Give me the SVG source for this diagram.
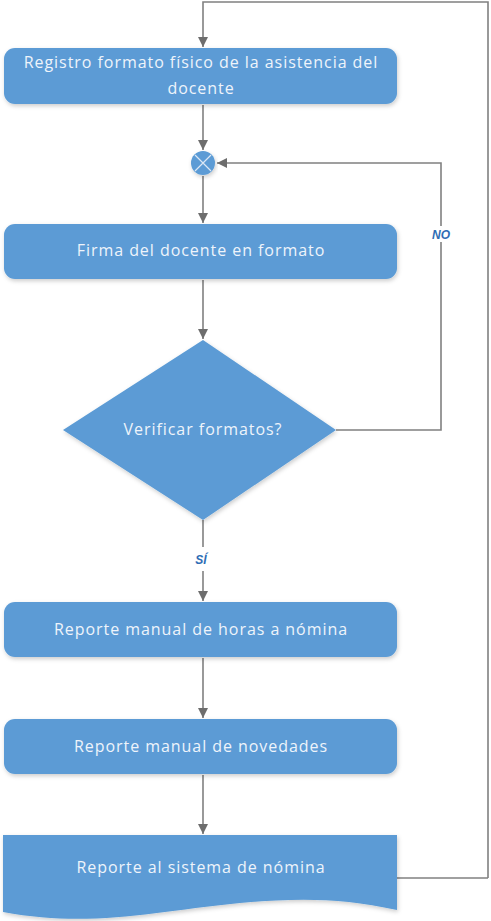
<svg xmlns="http://www.w3.org/2000/svg" width="491" height="921" viewBox="0 0 491 921">
<style>
.node{fill:#5b9bd5;filter:url(#sh)}
.lbl{font-family:"Open Sans","Noto Sans",sans-serif;font-size:16px;letter-spacing:0.95px;fill:#eef4fb;text-anchor:middle}
.conn{fill:none;stroke:#808080;stroke-width:1.6}
.edge{font-family:"Liberation Sans",Arial,sans-serif;font-size:12px;font-style:italic;font-weight:bold;fill:#2f6db5;text-anchor:middle}
</style>
<defs>
<filter id="sh" x="-10%" y="-10%" width="120%" height="130%">
<feDropShadow dx="1" dy="2" stdDeviation="2" flood-color="#000" flood-opacity="0.2"/>
</filter>
<marker id="ar" viewBox="0 0 10 10" refX="10" refY="5" markerWidth="10" markerHeight="10" markerUnits="userSpaceOnUse" orient="auto">
<path d="M0,0 L10,5 L0,10 Z" fill="#6d6d6d"/>
</marker>
</defs>
<rect width="491" height="921" fill="#ffffff"/>
<g id="connectors">
<path class="conn" d="M488,878 V2 H203 V47" marker-end="url(#ar)"/>
<path class="conn" d="M203,105 V150" marker-end="url(#ar)"/>
<path class="conn" d="M203,176 V223" marker-end="url(#ar)"/>
<path class="conn" d="M203,280 V339" marker-end="url(#ar)"/>
<path class="conn" d="M336,430 H441 V163 H217" marker-end="url(#ar)"/>
<path class="conn" d="M203,520 V547"/>
<path class="conn" d="M203,571 V601" marker-end="url(#ar)"/>
<path class="conn" d="M203,658 V718" marker-end="url(#ar)"/>
<path class="conn" d="M203,775 V834" marker-end="url(#ar)"/>
<path class="conn" d="M397,878 H488"/>
<rect x="430" y="226" width="24" height="16" fill="#ffffff"/>
<text class="edge" x="441" y="239">NO</text>
<text class="edge" x="201" y="564">SÍ</text>
</g>
<g id="n1">
<rect class="node" x="4" y="48" width="393" height="56" rx="11"/>
<text class="lbl" x="201" y="68">Registro formato físico de la asistencia del</text>
<text class="lbl" x="201" y="94">docente</text>
</g>
<g id="merge">
<circle class="node" cx="203" cy="163" r="12"/>
<path d="M195,155 L211,171 M211,155 L195,171" stroke="#dbe7f5" stroke-width="1.2"/>
</g>
<g id="n2">
<rect class="node" x="4" y="224" width="393" height="55" rx="11"/>
<text class="lbl" x="201" y="256">Firma del docente en formato</text>
</g>
<g id="d1">
<path class="node" d="M203,340 L336,430 L203,520 L63,430 Z"/>
<text class="lbl" x="203" y="435">Verificar formatos?</text>
</g>
<g id="n3">
<rect class="node" x="4" y="602" width="393" height="55" rx="11"/>
<text class="lbl" x="201" y="635">Reporte manual de horas a nómina</text>
</g>
<g id="n4">
<rect class="node" x="4" y="719" width="393" height="55" rx="11"/>
<text class="lbl" x="201" y="752">Reporte manual de novedades</text>
</g>
<g id="n5">
<path class="node" d="M3,835 H397 V910 C340,898 300,898 240,903 C150,912 90,928 3,912 Z"/>
<text class="lbl" x="201" y="873">Reporte al sistema de nómina</text>
</g>
</svg>
